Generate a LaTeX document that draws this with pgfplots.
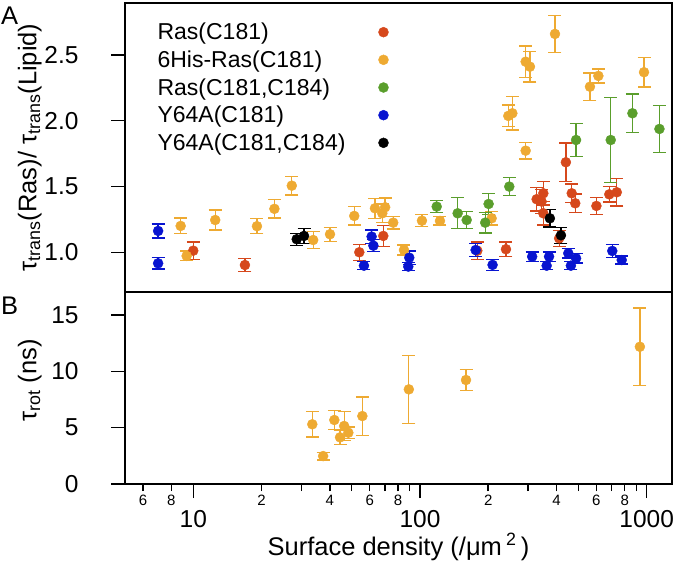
\documentclass[border=0pt]{standalone}
\usepackage{fontspec}
\setmainfont{Liberation Sans}
\usepackage{pgfplots}
\pgfplotsset{compat=1.18}

\definecolor{rasC}{RGB}{214,72,28}
\definecolor{hisC}{RGB}{238,170,50}
\definecolor{grnC}{RGB}{90,158,44}
\definecolor{bluC}{RGB}{8,20,208}

\newcommand{\fs}{\fontsize{23}{27}\selectfont}
\newcommand{\ft}{\fontsize{24.5}{28}\selectfont}
\newcommand{\fl}{\fontsize{25.5}{29}\selectfont}

% x  y  err
\pgfplotstableread{
10.0  1.012 0.066
16.9  0.903 0.050
54    1.000 0.060
68.9  1.124 0.080
179   1.012 0.067
239.5 1.023 0.055
327   1.403 0.090
350   1.448 0.090
344   1.385 0.090
350   1.296 0.090
411   1.106 0.060
440   1.684 0.146
467   1.448 0.070
484   1.372 0.070
600   1.352 0.065
684   1.440 0.057
738   1.456 0.105
}\rasdata

\pgfplotstableread{
8.8   1.200 0.060
9.35  0.972 0.037
12.5  1.245 0.076
19.1  1.198 0.057
22.8  1.330 0.070
27.2  1.506 0.070
33.8  1.093 0.063
40.1  1.137 0.053
51.3  1.276 0.070
63.3  1.334 0.075
68.2  1.296 0.070
70.2  1.342 0.070
76.2  1.225 0.048
85    1.017 0.038
102   1.240 0.045
122.5 1.238 0.032
207   1.258 0.050
245.2 2.036 0.083
255.5 2.056 0.127
292.5 1.772 0.063
292.5 2.448 0.120
305.5 2.410 0.117
394   2.659 0.140
562   2.258 0.104
612   2.340 0.053
973   2.368 0.113
}\hisdata

\pgfplotstableread{
118.5 1.347 0.045
146.6 1.296 0.118
160.7 1.245 0.067
194   1.225 0.078
200.8 1.367 0.080
247.7 1.499 0.070
488   1.853 0.127
694   1.853 0.324
865   2.056 0.146
1138  1.937 0.177
}\grndata

\pgfplotstableread{
7.0   1.162 0.053
7.0   0.916 0.043
56.6  0.898 0.030
61.2  1.119 0.050
62.3  1.050 0.045
88.8  0.891 0.030
89.7  0.959 0.050
176   1.017 0.050
209   0.904 0.040
312.5 0.967 0.035
362   0.898 0.030
371   0.967 0.035
451   0.992 0.035
488   0.954 0.035
463   0.898 0.030
705   1.010 0.050
776   0.941 0.030
}\bludata

\pgfplotstableread{
28.6  1.099 0.045
30.8  1.124 0.055
374   1.258 0.066
418.6 1.129 0.060
}\blkdata

\pgfplotstableread{
33.5  5.30  1.14
37.4  2.48  0.34
41.9  5.68  0.84
44.4  4.14  0.62
46.3  5.15  1.30
48.3  4.55  0.50
55.7  6.03  1.70
89.3  8.40  3.00
159.6 9.23  0.95
933   12.18 3.44
}\rotdata

\begin{document}
\begin{tikzpicture}
\useasboundingbox (0,0) rectangle (676pt,-564pt);

\begin{axis}[name=A, at={(125pt,-3pt)}, anchor=north west,
  scale only axis, width=547pt, height=289pt,
  xmode=log, xmin=5, xmax=1293,
  ymin=0.698, ymax=2.894,
  axis line style={line width=2pt},
  tick style={line width=1.5pt, black},
  tick align=outside, major tick length=14pt,
  xtick=\empty,
  ytick pos=left,
  ytick={1,1.5,2,2.5},
  yticklabels={1.0,1.5,2.0,2.5},
  tick label style={font=\ft},
  yticklabel style={xshift=-29pt},
  ylabel={τ\textsubscript{trans}(Ras)/ τ\textsubscript{trans}(Lipid)},
  ylabel style={font=\fl, at={(axis description cs:-0.146,0.5)}, anchor=south},
  legend style={draw=none, fill=none, font=\fs, at={(0.05,0.945)}, anchor=north west,
    row sep=5.5pt, /tikz/every odd column/.append style={column sep=31pt}},
  legend cell align=left, legend plot pos=right,
]
\addplot[rasC, only marks, mark=*, mark size=5pt, error bars/.cd, y dir=both, y explicit,
  error bar style={line width=1.3pt}, error mark options={rotate=90, mark size=6.5pt, line width=1.3pt}]
  table[x index=0, y index=1, y error index=2] {\rasdata};
\addlegendentry{Ras(C181)}
\addplot[hisC, only marks, mark=*, mark size=5pt, error bars/.cd, y dir=both, y explicit,
  error bar style={line width=1.3pt}, error mark options={rotate=90, mark size=6.5pt, line width=1.3pt}]
  table[x index=0, y index=1, y error index=2] {\hisdata};
\addlegendentry{6His-Ras(C181)}
\addplot[grnC, only marks, mark=*, mark size=5pt, error bars/.cd, y dir=both, y explicit,
  error bar style={line width=1.3pt}, error mark options={rotate=90, mark size=6.5pt, line width=1.3pt}]
  table[x index=0, y index=1, y error index=2] {\grndata};
\addlegendentry{Ras(C181,C184)}
\addplot[bluC, only marks, mark=*, mark size=5pt, error bars/.cd, y dir=both, y explicit,
  error bar style={line width=1.3pt}, error mark options={rotate=90, mark size=6.5pt, line width=1.3pt}]
  table[x index=0, y index=1, y error index=2] {\bludata};
\addlegendentry{Y64A(C181)}
\addplot[black, only marks, mark=*, mark size=5pt, error bars/.cd, y dir=both, y explicit,
  error bar style={line width=1.3pt}, error mark options={rotate=90, mark size=6.5pt, line width=1.3pt}]
  table[x index=0, y index=1, y error index=2] {\blkdata};
\addlegendentry{Y64A(C181,C184)}
\end{axis}

\begin{axis}[name=B, at={(A.south west)}, anchor=north west,
  scale only axis, width=547pt, height=192pt,
  xmode=log, xmin=5, xmax=1293,
  ymin=0, ymax=17.04,
  axis line style={line width=2pt},
  tick style={line width=1.5pt, black},
  tick align=outside, major tick length=14pt, minor tick length=7pt,
  ytick pos=left, xtick pos=bottom,
  ytick={0,5,10,15},
  yticklabels={0,5,10,15},
  tick label style={font=\ft},
  yticklabel style={xshift=-29pt},
  xtick={10,100,1000}, xticklabels={10,100,1000},
  xticklabel style={yshift=-9pt},
  extra x ticks={6,8,20,40,60,80,200,400,600,800},
  extra x tick labels={6,8,2,4,6,8,2,4,6,8},
  extra x tick style={major tick length=7pt,
    xticklabel style={font=\fontsize{15}{17}\selectfont, yshift=7pt, inner sep=2pt}},
  ylabel={τ\textsubscript{rot} (ns)},
  ylabel style={font=\fl, at={(axis description cs:-0.146,0.54)}, anchor=south},
  xlabel={Surface density (/μm\,\textsuperscript{2}\,)},
  xlabel style={font=\fl, at={(axis description cs:0.5,0)}, anchor=base, yshift=-71pt},
]
\addplot[hisC, only marks, mark=*, mark size=5pt, error bars/.cd, y dir=both, y explicit,
  error bar style={line width=1.3pt}, error mark options={rotate=90, mark size=6.5pt, line width=1.3pt}]
  table[x index=0, y index=1, y error index=2] {\rotdata};
\end{axis}

\node[anchor=north west, inner sep=0pt, font=\fl] at (1pt,-7pt) {A};
\node[anchor=north west, inner sep=0pt, font=\fl] at (1pt,-297pt) {B};
\end{tikzpicture}
\end{document}
